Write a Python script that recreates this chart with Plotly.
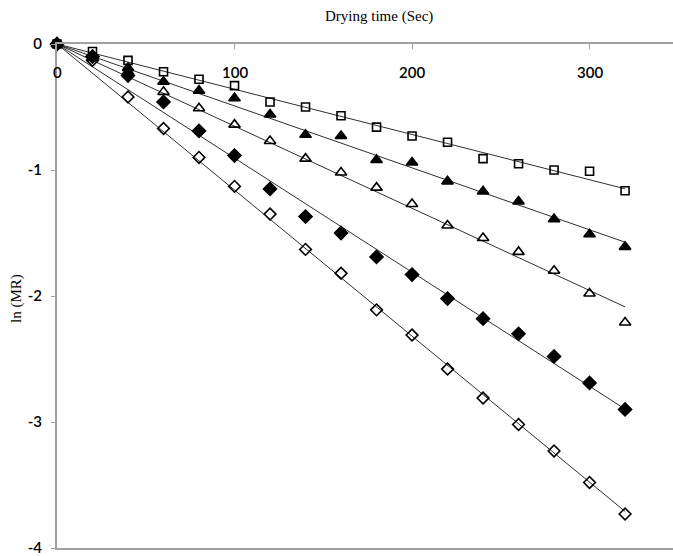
import numpy as np
import plotly.graph_objects as go

time_s = [0, 20, 40, 60, 80, 100, 120, 140, 160, 180, 200, 220, 240, 260, 280, 300, 320]

ln_mr_open_square = [0, -0.06, -0.13, -0.22, -0.28, -0.33, -0.46, -0.50, -0.57, -0.66, -0.73, -0.78, -0.91, -0.95, -1.00, -1.01, -1.165]
ln_mr_filled_triangle = [0, -0.09, -0.19, -0.30, -0.37, -0.43, -0.56, -0.72, -0.73, -0.92, -0.94, -1.09, -1.17, -1.25, -1.39, -1.51, -1.61]
ln_mr_open_triangle = [0, -0.11, -0.22, -0.38, -0.51, -0.64, -0.77, -0.91, -1.02, -1.14, -1.27, -1.44, -1.54, -1.65, -1.80, -1.98, -2.21]
ln_mr_filled_diamond = [0, -0.10, -0.25, -0.46, -0.69, -0.885, -1.15, -1.37, -1.50, -1.69, -1.83, -2.02, -2.18, -2.30, -2.48, -2.69, -2.90]
ln_mr_open_diamond = [0, -0.13, -0.42, -0.67, -0.90, -1.13, -1.35, -1.63, -1.82, -2.11, -2.31, -2.58, -2.81, -3.02, -3.23, -3.48, -3.73]

x_ticks = [0, 100, 200, 300]
y_ticks = [0, -1, -2, -3, -4]

series = [
    (ln_mr_open_square, "square-open", 8),
    (ln_mr_filled_triangle, "triangle-up", 10),
    (ln_mr_open_triangle, "triangle-up-open", 10),
    (ln_mr_filled_diamond, "diamond", 10),
    (ln_mr_open_diamond, "diamond-open", 9),
]

fig = go.Figure()
x = np.array(time_s, dtype=float)
for yvals, sym, size in series:
    y = np.array(yvals, dtype=float)
    k = float(np.sum(x * y) / np.sum(x * x))
    fit_x = [x.min(), x.max()]
    fit_y = [k * v for v in fit_x]
    fig.add_trace(go.Scatter(x=fit_x, y=fit_y, mode="lines",
                             line=dict(color="#303030", width=1),
                             showlegend=False, hoverinfo="skip", cliponaxis=False))
for yvals, sym, size in series:
    fig.add_trace(go.Scatter(
        x=time_s, y=yvals, mode="markers",
        marker=dict(symbol=sym, size=size, color="black",
                    line=dict(color="black", width=1.6)),
        showlegend=False, cliponaxis=False))

W, H = 673, 556
L, R, T, B = 57, 0, 44, 6
tick_font = dict(family="Lato", size=15, color="black", weight=600)
fig.update_layout(
    width=W, height=H,
    margin=dict(l=L, r=R, t=T, b=B),
    paper_bgcolor="white", plot_bgcolor="white",
    font=dict(family="Lato, sans-serif", size=14, color="black"),
)
pw, ph = W - L - R, H - T - B
fig.add_annotation(text="Drying time (Sec)", xref="paper", yref="paper",
                   x=(379 - L) / pw, y=1 + (T - 16) / ph, xanchor="center", yanchor="middle",
                   showarrow=False, font=dict(family="Liberation Serif", size=15, color="black"))
fig.add_annotation(text="ln (MR)", xref="paper", yref="paper",
                   x=-(L - 17) / pw, y=(H - B - 300) / ph, xanchor="center", yanchor="middle",
                   textangle=-90, showarrow=False,
                   font=dict(family="Liberation Serif", size=15, color="black"))
# x tick labels sit just below the top axis line
for v in x_ticks:
    fig.add_annotation(text=str(v), xref="x", yref="paper", x=v, y=1 - (72 - T) / ph,
                       xanchor="center", yanchor="middle", showarrow=False,
                       font=tick_font)

fig.update_xaxes(
    range=[0, 347], side="top", tickvals=x_ticks, showticklabels=False,
    ticks="inside", ticklen=5, tickcolor="#a0a0a0",
    showline=True, linecolor="#a0a0a0", linewidth=2, mirror=True,
    showgrid=False, zeroline=False,
)
fig.update_yaxes(
    range=[-4, 0], tickvals=y_ticks, ticktext=[str(v) for v in y_ticks],
    ticks="outside", ticklen=4, tickcolor="#a0a0a0",
    showline=True, linecolor="#a0a0a0", linewidth=2,
    showgrid=False, zeroline=False, ticklabelstandoff=6,
    ticklabeloverflow="allow",
    tickfont=tick_font,
)

fig.write_html("out.html", config={"displayModeBar": False},
               post_script="document.body.style.margin='0';document.body.style.overflow='hidden';")
